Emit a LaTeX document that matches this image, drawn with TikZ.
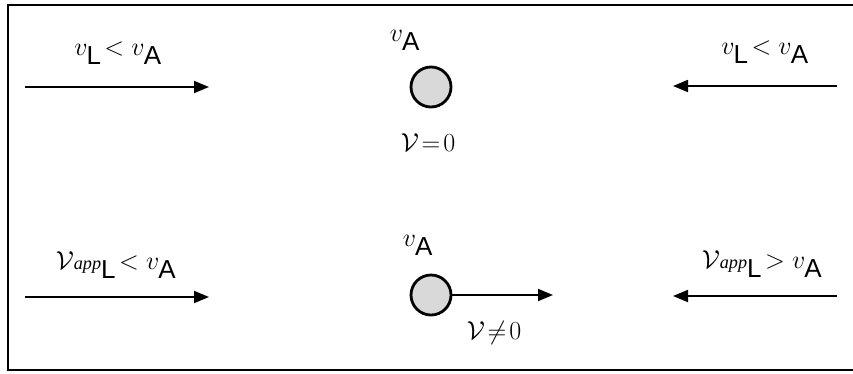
\documentclass[tikz,border=0pt]{standalone}
\usepackage{fix-cm}
\usepackage{fontspec}
\setmainfont{Liberation Serif}
\setsansfont{Liberation Sans}
\usetikzlibrary{arrows.meta}
\newcommand{\subA}{_{\textsf{A}}}
\newcommand{\subL}{_{\textsf{L}}}
\newcommand{\appV}{\mathcal{V}\mathit{\scriptstyle app}\subL}
\begin{document}
\begin{tikzpicture}[x=1pt,y=-1pt,
  lbl/.style={font=\fontsize{26}{30}\selectfont, inner sep=0pt},
  arr/.style={line width=1.8pt,-{Triangle[length=15pt,width=12pt]}},
  ball/.style={circle, draw=black, line width=2.8pt, fill=gray!30, minimum size=40pt, inner sep=0pt}]
\useasboundingbox (0,0) rectangle (853,373);
% frame
\coordinate (tr) at (853,5);
\coordinate (tl) at (8,5);
\coordinate (bl) at (8,370);
\coordinate (br) at (853,370);
\draw[line width=2pt] (tr) -- (tl) -- (bl) -- (br);
% top row
\node[lbl] (t1) at (118,53) {$v\subL\!< v\subA$};
\coordinate (a1s) at (25,87);
\coordinate (a1e) at (209,87);
\draw[arr] (a1s) -- (a1e);
\node[lbl] (t2) at (405,40) {$v\subA$};
\node[ball] (b1) at (431,87) {};
\node[lbl] (t3) at (428,143) {$\mathcal{V}\!=\!0$};
\node[lbl] (t4) at (765,52) {$v\subL\!< v\subA$};
\coordinate (a2s) at (837,86);
\coordinate (a2e) at (673,86);
\draw[arr] (a2s) -- (a2e);
% bottom row
\node[lbl] (u1) at (116,265) {$\appV\!< v\subA$};
\coordinate (c1s) at (25,297);
\coordinate (c1e) at (209,297);
\draw[arr] (c1s) -- (c1e);
\node[lbl] (u2) at (418,245) {$v\subA$};
\node[ball] (b2) at (431,295) {};
\coordinate (c2e) at (553,295);
\draw[arr] (b2.east) -- (c2e);
\node[lbl] (u3) at (494,333) {$\mathcal{V}\!\neq\!0$};
\node[lbl] (u4) at (762,264) {$\appV\!> v\subA$};
\coordinate (c3s) at (837,296);
\coordinate (c3e) at (673,296);
\draw[arr] (c3s) -- (c3e);
\end{tikzpicture}
\end{document}
